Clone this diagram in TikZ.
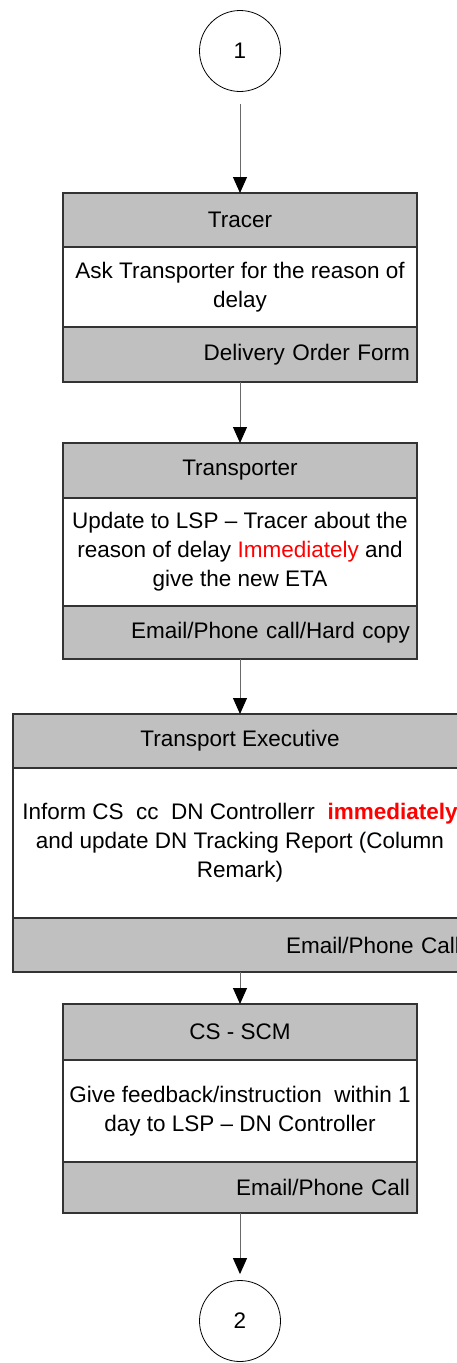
\documentclass[tikz,border=0pt]{standalone}
\usepackage{fontspec}
\setmainfont{Liberation Sans}
\usetikzlibrary{arrows.meta}
\definecolor{bandgray}{HTML}{C0C0C0}
\definecolor{edgegray}{HTML}{333333}
\definecolor{flowgray}{HTML}{6A6A6A}
\definecolor{alertred}{HTML}{FF0000}
\tikzset{
  lane/.style={draw=edgegray, line width=1.1pt, inner sep=0pt, outer sep=0pt},
  head/.style={lane, fill=bandgray},
  body/.style={lane, fill=white, align=center},
  foot/.style={lane, fill=bandgray, inner xsep=7pt, align=right},
  conn/.style={circle, draw=black, line width=0.8pt, minimum size=81pt, inner sep=0pt},
  flow/.style={draw=flowgray, line width=1pt,
    -{Triangle[width=14pt,length=16pt,color=black]}},
}
\begin{document}
\begin{tikzpicture}[x=1pt, y=-1pt, font=\fontsize{22.5}{29}\selectfont]
  \useasboundingbox (0,0) rectangle (457,1363);
  \clip (0,0) rectangle (457,1363);

  % off-page connector in
  \node[conn] (c1) at (240,51) {1};

  % Tracer
  \node[head, minimum width=354pt, minimum height=54pt] (h1) at (240,220) {Tracer};
  \node[body, minimum width=354pt, minimum height=80pt] (b1) at (240,287)
    {Ask Transporter for the reason of\\delay};
  \node[foot, text width=340pt, minimum height=55pt] (f1) at (240,354.5)
    {Delivery Order Form};

  % Transporter
  \node[head, minimum width=354pt, minimum height=55pt] (h2) at (240,470.5) {Transporter};
  \node[body, minimum width=354pt, minimum height=108pt] (b2) at (240,552)
    {Update to LSP -- Tracer about the\\reason of delay \textcolor{alertred}{Immediately} and\\give the new ETA};
  \node[foot, text width=340pt, minimum height=53pt] (f2) at (240,632.5)
    {Email/Phone call/Hard copy};

  % Transport Executive
  \node[head, minimum width=454pt, minimum height=54pt] (h3) at (240,741) {Transport Executive};
  \node[body, minimum width=454pt, minimum height=150pt] (b3) at (240,843)
    {Inform CS\ \ cc\ \ DN Controllerr\ \ \textcolor{alertred}{\bfseries immediately}\\and update DN Tracking Report (Column\\Remark)};
  \node[foot, text width=440pt, minimum height=54pt] (f3) at (240,945)
    {Email/Phone Call};

  % CS - SCM
  \node[head, minimum width=354pt, minimum height=56pt] (h4) at (240,1032) {CS - SCM};
  \node[body, minimum width=354pt, minimum height=102pt] (b4) at (240,1111)
    {Give feedback/instruction\ \ within 1\\day to LSP -- DN Controller};
  \node[foot, text width=340pt, minimum height=51pt] (f4) at (240,1187.5)
    {Email/Phone Call};

  % off-page connector out
  \node[conn] (c2) at (240,1321) {2};

  % flow
  \draw[flow, shorten <=12pt] (c1) -- (h1);
  \draw[flow] (f1) -- (h2);
  \draw[flow] (f2) -- (h3);
  \draw[flow] (f3) -- (h4);
  \draw[flow, shorten >=6pt] (f4) -- (c2);
\end{tikzpicture}
\end{document}
